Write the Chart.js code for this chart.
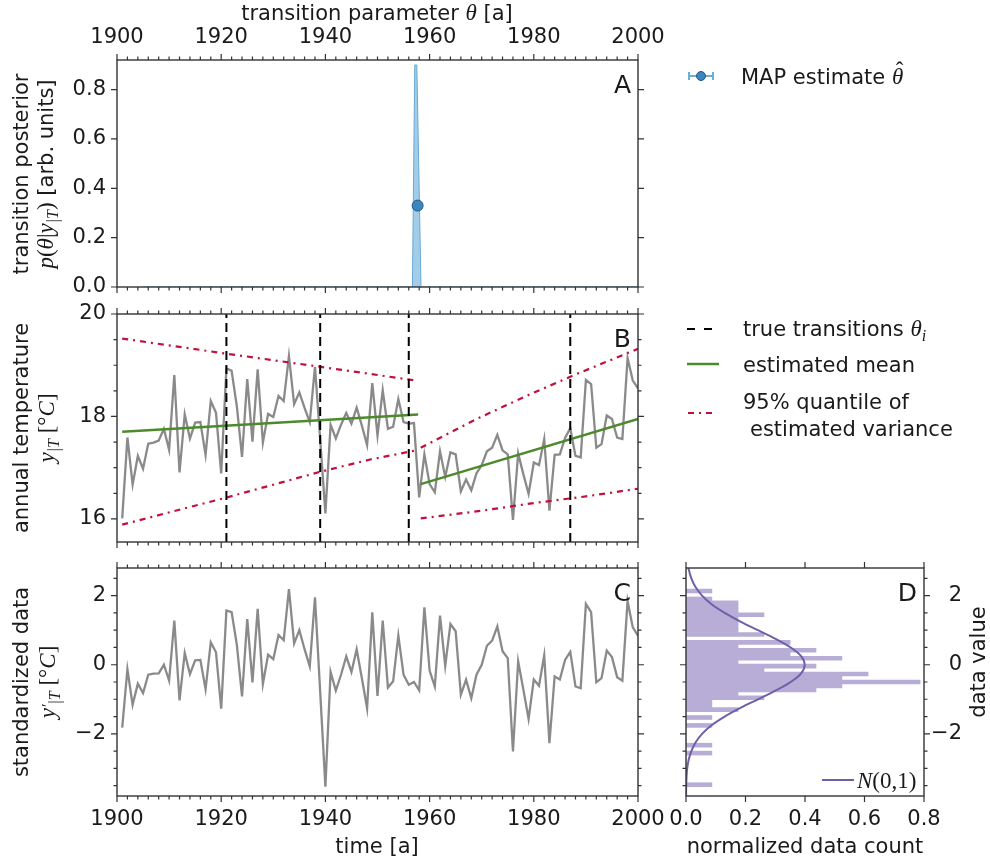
<!DOCTYPE html>
<html>
<head>
<meta charset="utf-8">
<script src="https://cdn.jsdelivr.net/npm/chart.js@4.4.1/dist/chart.umd.min.js"></script>
<style>
  html, body { margin: 0; padding: 0; background: #fff; }
  #wrap { position: relative; width: 990px; height: 864px; }
  #wrap canvas { position: absolute; left: 0; top: 0; }
</style>
</head>
<body>
<div id="wrap">
  <canvas id="chartA" width="990" height="864"></canvas>
  <canvas id="chartB" width="990" height="864"></canvas>
  <canvas id="chartC" width="990" height="864"></canvas>
  <canvas id="chartD" width="990" height="864"></canvas>
</div>
<script>
// ---- data ----
const years = Array.from({ length: 100 }, (_, i) => 1901 + i);

const rawTemp = [
  16.01, 17.59, 16.67, 17.23, 16.98, 17.47, 17.49, 17.53, 17.76, 17.35,
  18.81, 16.91, 18.04, 17.57, 17.88, 17.89, 17.25, 18.30, 18.07, 16.89,
  18.94, 18.89, 18.20, 17.21, 18.73, 17.51, 18.92, 17.49, 18.05, 17.99,
  18.40, 18.30, 19.18, 18.24, 18.47, 18.17, 17.89, 18.97, 17.55, 16.11,
  17.84, 17.57, 17.84, 18.07, 17.86, 18.17, 17.82, 17.44, 18.65, 17.63,
  18.51, 17.76, 17.80, 18.34, 17.89, 17.86, 17.87, 16.42, 17.26, 16.68,
  16.52, 17.32, 16.82, 17.30, 17.26, 16.54, 16.77, 16.56, 16.89, 17.05,
  17.32, 17.39, 17.64, 17.34, 17.26, 15.98, 17.28, 16.87, 16.49, 17.10,
  17.05, 17.56, 16.16, 17.25, 17.26, 17.58, 17.77, 17.23, 17.20, 18.71,
  18.63, 17.39, 17.46, 18.02, 17.95, 17.59, 17.56, 19.14, 18.70, 18.55
];

const standardized = [
  -1.82, -0.13, -1.16, -0.55, -0.82, -0.29, -0.26, -0.25, 0.00, -0.46,
  1.28, -1.03, 0.34, -0.27, 0.13, 0.14, -0.71, 0.65, 0.36, -1.27,
  1.57, 1.52, 0.58, -0.92, 1.32, -0.51, 1.62, -0.56, 0.29, 0.16,
  0.86, 0.71, 2.19, 0.62, 1.00, 0.45, -0.05, 1.95, -0.79, -3.53,
  -0.21, -0.75, -0.29, 0.24, -0.21, 0.45, -0.39, -1.26, 1.52, -0.90,
  1.28, -0.66, -0.48, 0.84, -0.29, -0.58, -0.50, -0.74, 1.66, -0.17,
  -0.63, 1.42, -0.03, 1.18, 0.97, -0.87, -0.43, -0.97, -0.29, 0.00,
  0.55, 0.70, 1.11, 0.39, 0.19, -2.51, 0.10, -0.72, -1.57, -0.43,
  -0.61, 0.27, -2.27, -0.34, -0.43, 0.14, 0.37, -0.63, -0.68, 1.76,
  1.52, -0.51, -0.39, 0.41, 0.22, -0.36, -0.46, 1.84, 1.08, 0.84
];

const transitions = [1921, 1939, 1956, 1987];

const meanYears1 = [1901, 1957.8];
const meanValues1 = [17.70, 18.04];
const meanYears2 = [1958.3, 2000];
const meanValues2 = [16.68, 17.95];

const upperYears1 = [1901, 1920, 1939, 1957.5];
const upperValues1 = [19.52, 19.24, 18.97, 18.70];
const lowerYears1 = [1901, 1920, 1939, 1948.6, 1957.5];
const lowerValues1 = [15.89, 16.39, 16.92, 17.16, 17.34];
const upperYears2 = [1958.3, 1969, 1979, 1988, 2000];
const upperValues2 = [17.39, 17.95, 18.42, 18.82, 19.32];
const lowerYears2 = [1958.3, 1970, 1980, 1990, 2000];
const lowerValues2 = [16.01, 16.16, 16.31, 16.44, 16.59];

const posteriorYears = [1905, 1956.7, 1957.15, 1957.55, 1958.35, 2000];
const posteriorValues = [0, 0, 0.9, 0.9, 0, 0];
const mapYear = 1957.7;
const mapValue = 0.33;

const histCenters = [
  2.133, 2.018, 1.904, 1.790, 1.675, 1.561, 1.446, 1.332, 1.218, 1.103,
  0.989, 0.874, 0.760, 0.646, 0.531, 0.417, 0.302, 0.188, 0.074, -0.041,
  -0.155, -0.270, -0.384, -0.498, -0.613, -0.727, -0.842, -0.956, -1.070, -1.185,
  -1.299, -1.414, -1.528, -1.642, -1.757, -1.871, -1.986, -2.100, -2.214, -2.329,
  -2.443, -2.558, -2.672, -2.786, -2.901, -3.015, -3.130, -3.244, -3.358, -3.473
];
const histDensity = [
  0.087, 0, 0.087, 0.175, 0.175, 0.175, 0.262, 0.175, 0.175, 0.175,
  0.175, 0.262, 0, 0.350, 0.175, 0.437, 0.350, 0.524, 0.175, 0.437,
  0.262, 0.612, 0.524, 0.787, 0.524, 0.437, 0.175, 0.262, 0.087, 0.087,
  0.175, 0, 0.087, 0, 0.087, 0, 0, 0, 0, 0.087,
  0, 0.087, 0, 0, 0, 0, 0, 0, 0, 0.087
];

const normalY = [2.8, 2.5, 2.25, 2.0, 1.75, 1.5, 1.25, 1.0, 0.75, 0.5, 0.25, 0,
  -0.25, -0.5, -0.75, -1.0, -1.25, -1.5, -1.75, -2.0, -2.25, -2.5, -2.75, -3.0, -3.4, -3.8];
const normalPdf = [0.008, 0.018, 0.032, 0.054, 0.086, 0.130, 0.183, 0.242, 0.301, 0.352, 0.387, 0.399,
  0.387, 0.352, 0.301, 0.242, 0.183, 0.130, 0.086, 0.054, 0.032, 0.018, 0.009, 0.004, 0.001, 0.0003];

// tick labels and ranges
const yearTicks = [1900, 1920, 1940, 1960, 1980, 2000];
const posteriorTicks = [0, 0.2, 0.4, 0.6, 0.8];
const tempTicks = [16, 18, 20];
const stdTicks = [-2, 0, 2];
const densityTicks = [0, 0.2, 0.4, 0.6, 0.8];

const yearRange = [1900, 2000];
const posteriorRange = [0, 0.92];
const tempRange = [15.55, 20];
const stdRange = [-3.8, 2.8];
const densityRange = [0, 0.8];

// ---- helpers ----
const TEXT = '#1a1a1a';
const AXIS = '#333';
const SANS = '21px "DejaVu Sans"';
const MI = 'italic 23px "Liberation Serif"';
const MR = '23px "Liberation Serif"';
const SUB = 'italic 16px "Liberation Serif"';

const xy = (xs, ys) => xs.map((x, i) => ({ x, y: ys[i] }));
const steps = (a, b, s) => { const out = []; for (let v = a; v <= b + 1e-9; v += s) out.push(+v.toFixed(4)); return out; };
const minus = (v) => String(v).replace('-', '\u2212');

// parts: [text, font, dy, over] -- "over" centres the part above the previous one
function rich(ctx, parts, x, y, opt = {}) {
  ctx.save();
  ctx.translate(x, y);
  if (opt.rotate) ctx.rotate(opt.rotate);
  ctx.textBaseline = 'alphabetic';
  ctx.textAlign = 'left';
  ctx.fillStyle = TEXT;
  let w = 0;
  for (const p of parts) { if (p[3]) continue; ctx.font = p[1]; w += ctx.measureText(p[0]).width; }
  let cx = opt.align === 'center' ? -w / 2 : opt.align === 'right' ? -w : 0;
  let prevX = cx, prevW = 0;
  for (const p of parts) {
    ctx.font = p[1];
    const pw = ctx.measureText(p[0]).width;
    if (p[3]) {
      ctx.fillText(p[0], prevX + (prevW - pw) / 2 + 2, 7.5 + (p[2] || 0));
      continue;
    }
    ctx.fillText(p[0], cx, 7.5 + (p[2] || 0));
    prevX = cx; prevW = pw;
    cx += pw;
  }
  ctx.restore();
}

function letter(chart, txt) {
  const { ctx, chartArea: a } = chart;
  ctx.save();
  ctx.font = '25px "DejaVu Sans"';
  ctx.fillStyle = TEXT;
  ctx.textAlign = 'right';
  ctx.fillText(txt, a.right - 7, a.top + 33);
  ctx.restore();
}

function makeFrame(spec) {
  return {
    id: 'frame',
    afterDatasetsDraw(chart) {
      const { ctx, chartArea: a } = chart;
      const xs = chart.scales.x, ys = chart.scales.y;
      ctx.save();
      ctx.strokeStyle = AXIS;
      ctx.lineWidth = 1.2;
      ctx.beginPath();
      const tx = (v, len) => {
        const p = xs.getPixelForValue(v);
        ctx.moveTo(p, a.top); ctx.lineTo(p, a.top - len);
        ctx.moveTo(p, a.bottom); ctx.lineTo(p, a.bottom + len);
      };
      const ty = (v, len) => {
        const p = ys.getPixelForValue(v);
        ctx.moveTo(a.left, p); ctx.lineTo(a.left - len, p);
        ctx.moveTo(a.right, p); ctx.lineTo(a.right + len, p);
      };
      spec.xMajor.forEach(v => tx(v, 6));
      (spec.xMinor || []).forEach(v => tx(v, 3.5));
      spec.yMajor.forEach(v => ty(v, 6));
      (spec.yMinor || []).forEach(v => ty(v, 3.5));
      ctx.stroke();
      ctx.lineWidth = 1.4;
      ctx.strokeRect(a.left, a.top, a.right - a.left, a.bottom - a.top);
      ctx.restore();
    }
  };
}

function axis(position, range, ticks, fmt, size, labels) {
  return {
    type: 'linear',
    position,
    min: range[0],
    max: range[1],
    offset: false,
    grid: { display: false, drawTicks: false },
    border: { display: false },
    afterBuildTicks: (s) => { s.ticks = ticks.map(v => ({ value: v })); },
    afterFit: (s) => { if (s.isHorizontal()) s.height = size; else s.width = size; },
    ticks: {
      display: labels,
      padding: position === 'top' ? 10 : 11,
      color: TEXT,
      font: { size: 21, family: 'DejaVu Sans' },
      autoSkip: false,
      maxRotation: 0,
      crossAlign: position === 'right' ? 'far' : 'near',
      callback: (v) => fmt(v)
    }
  };
}

function baseOptions(padding, scales) {
  return {
    responsive: false,
    animation: false,
    events: [],
    layout: { padding },
    plugins: { legend: { display: false }, tooltip: { enabled: false } },
    scales
  };
}

const yearMinor = steps(1900, 2000, 2);
const halfMinor = (a, b) => steps(a, b, 0.5);

// ---- A: transition posterior ----
new Chart(document.getElementById('chartA'), {
  type: 'scatter',
  data: {
    datasets: [
      {
        data: [{ x: mapYear, y: mapValue }],
        pointRadius: 5.5,
        backgroundColor: '#3a86bf',
        borderColor: '#25577f',
        borderWidth: 1,
        order: 0
      },
      {
        data: xy(posteriorYears, posteriorValues),
        showLine: true,
        fill: 'origin',
        backgroundColor: 'rgba(130,188,225,0.75)',
        borderColor: '#6aa9d6',
        borderWidth: 1,
        pointRadius: 0,
        order: 1
      }
    ]
  },
  options: baseOptions({ left: 0, top: 0, right: 352, bottom: 577 }, {
    x: axis('top', yearRange, yearTicks, v => String(v), 60, true),
    y: axis('left', posteriorRange, posteriorTicks, v => v.toFixed(1), 117, true)
  }),
  plugins: [
    makeFrame({ xMajor: yearTicks, xMinor: yearMinor, yMajor: posteriorTicks }),
    {
      id: 'decoA',
      afterDraw(chart) {
        const ctx = chart.ctx;
        letter(chart, 'A');
        rich(ctx, [['transition parameter ', SANS], ['\u03b8', MI], [' [a]', SANS]], 377, 12, { align: 'center' });
        rich(ctx, [['transition posterior', SANS]], 20, 174, { align: 'center', rotate: -Math.PI / 2 });
        rich(ctx, [['p', MI], ['(', MR], ['\u03b8', MI], ['|', MR], ['y', MI], ['|T', SUB, 5], [')', MR], [' [arb. units]', SANS]],
          45, 174, { align: 'center', rotate: -Math.PI / 2 });

        // legend A
        ctx.save();
        ctx.strokeStyle = '#6baed6';
        ctx.lineWidth = 2;
        ctx.beginPath();
        ctx.moveTo(689, 76); ctx.lineTo(713, 76);
        ctx.moveTo(689, 72); ctx.lineTo(689, 80);
        ctx.moveTo(713, 72); ctx.lineTo(713, 80);
        ctx.stroke();
        ctx.beginPath();
        ctx.arc(701, 76, 4.5, 0, Math.PI * 2);
        ctx.fillStyle = '#3a86bf';
        ctx.fill();
        ctx.strokeStyle = '#25577f';
        ctx.lineWidth = 1;
        ctx.stroke();
        ctx.restore();
        rich(ctx, [['MAP estimate ', SANS], ['\u03b8', MI], ['\u02c6', MR, -6, true]], 741, 76);

        // legend B
        ctx.save();
        ctx.lineWidth = 2;
        ctx.strokeStyle = '#000';
        ctx.setLineDash([8, 9]);
        ctx.beginPath(); ctx.moveTo(687, 329); ctx.lineTo(713, 329); ctx.stroke();
        ctx.setLineDash([]);
        ctx.strokeStyle = '#4c8a2b';
        ctx.lineWidth = 2.5;
        ctx.beginPath(); ctx.moveTo(687, 364); ctx.lineTo(719, 364); ctx.stroke();
        ctx.strokeStyle = '#c0103c';
        ctx.lineWidth = 2.2;
        ctx.setLineDash([6, 5, 2, 5]);
        ctx.beginPath(); ctx.moveTo(688, 413); ctx.lineTo(714, 413); ctx.stroke();
        ctx.restore();
        rich(ctx, [['true transitions ', SANS], ['\u03b8', MI], ['i', SUB, 5]], 743, 328);
        rich(ctx, [['estimated mean', SANS]], 743, 364);
        rich(ctx, [['95% quantile of', SANS]], 743, 401);
        rich(ctx, [['estimated variance', SANS]], 750, 428);
      }
    }
  ]
});

// ---- B: annual temperature ----
const dashOpts = { borderColor: '#c0103c', borderWidth: 2.2, borderDash: [6, 5, 2, 5], pointRadius: 0, showLine: true, order: 2 };
const transitionSets = transitions.map(t => ({
  data: xy([t, t], tempRange),
  borderColor: '#000',
  borderWidth: 2,
  borderDash: [9, 5],
  pointRadius: 0,
  showLine: true,
  order: 0
}));

new Chart(document.getElementById('chartB'), {
  type: 'scatter',
  data: {
    datasets: [
      ...transitionSets,
      { data: xy(meanYears1, meanValues1), borderColor: '#4c8a2b', borderWidth: 2.5, pointRadius: 0, showLine: true, order: 1 },
      { data: xy(meanYears2, meanValues2), borderColor: '#4c8a2b', borderWidth: 2.5, pointRadius: 0, showLine: true, order: 1 },
      { data: xy(upperYears1, upperValues1), ...dashOpts },
      { data: xy(lowerYears1, lowerValues1), ...dashOpts },
      { data: xy(upperYears2, upperValues2), ...dashOpts },
      { data: xy(lowerYears2, lowerValues2), ...dashOpts },
      { data: xy(years, rawTemp), borderColor: '#8a8a8a', borderWidth: 2.3, pointRadius: 0, showLine: true, order: 3 }
    ]
  },
  options: baseOptions({ left: 0, top: 314, right: 352, bottom: 322 }, {
    x: axis('bottom', yearRange, yearTicks, v => String(v), 0, false),
    y: axis('left', tempRange, tempTicks, v => String(v), 117, true)
  }),
  plugins: [
    makeFrame({ xMajor: yearTicks, xMinor: yearMinor, yMajor: tempTicks, yMinor: halfMinor(16, 20) }),
    {
      id: 'decoB',
      afterDraw(chart) {
        const ctx = chart.ctx;
        letter(chart, 'B');
        rich(ctx, [['annual temperature', SANS]], 20, 428, { align: 'center', rotate: -Math.PI / 2 });
        rich(ctx, [['y', MI], ['|T', SUB, 5], [' [\u00b0', MR], ['C', MI], [']', MR]], 46, 428, { align: 'center', rotate: -Math.PI / 2 });
      }
    }
  ]
});

// ---- C: standardized data ----
new Chart(document.getElementById('chartC'), {
  type: 'scatter',
  data: {
    datasets: [
      { data: xy(years, standardized), borderColor: '#8a8a8a', borderWidth: 2.3, pointRadius: 0, showLine: true }
    ]
  },
  options: baseOptions({ left: 0, top: 568, right: 352, bottom: 0 }, {
    x: axis('bottom', yearRange, yearTicks, v => String(v), 68, true),
    y: axis('left', stdRange, stdTicks, v => minus(v), 117, true)
  }),
  plugins: [
    makeFrame({ xMajor: yearTicks, xMinor: yearMinor, yMajor: stdTicks, yMinor: halfMinor(-3.5, 2.5) }),
    {
      id: 'decoC',
      afterDraw(chart) {
        const ctx = chart.ctx;
        letter(chart, 'C');
        rich(ctx, [['standardized data', SANS]], 20, 682, { align: 'center', rotate: -Math.PI / 2 });
        rich(ctx, [['y', MI], ['\u2032', SUB, -2], ['|T', SUB, 5], [' [\u00b0', MR], ['C', MI], [']', MR]], 47, 682, { align: 'center', rotate: -Math.PI / 2 });
        rich(ctx, [['time [a]', SANS]], 377, 845, { align: 'center' });
      }
    }
  ]
});

// ---- D: histogram ----
new Chart(document.getElementById('chartD'), {
  type: 'bar',
  data: {
    datasets: [
      {
        type: 'line',
        data: xy(normalPdf, normalY),
        borderColor: '#6f5fa8',
        borderWidth: 2,
        pointRadius: 0,
        cubicInterpolationMode: 'monotone',
        fill: false,
        order: 0
      },
      {
        data: histCenters.map((c, i) => ({ x: histDensity[i], y: c })),
        backgroundColor: '#b8add6',
        borderWidth: 0,
        barPercentage: 1,
        categoryPercentage: 1,
        order: 1
      }
    ]
  },
  options: Object.assign(baseOptions({ left: 686, top: 568, right: 28, bottom: 0 }, {
    x: axis('bottom', densityRange, densityTicks, v => v.toFixed(1), 68, true),
    y: axis('right', stdRange, stdTicks, v => minus(v), 38, true)
  }), { indexAxis: 'y' }),
  plugins: [
    makeFrame({ xMajor: densityTicks, yMajor: stdTicks, yMinor: halfMinor(-3.5, 2.5) }),
    {
      id: 'decoD',
      afterDraw(chart) {
        const ctx = chart.ctx;
        letter(chart, 'D');
        rich(ctx, [['normalized data count', SANS]], 805, 845, { align: 'center' });
        rich(ctx, [['data value', SANS]], 977, 662, { align: 'center', rotate: -Math.PI / 2 });
        ctx.save();
        ctx.strokeStyle = '#6f5fa8';
        ctx.lineWidth = 2;
        ctx.beginPath(); ctx.moveTo(822, 780); ctx.lineTo(854, 780); ctx.stroke();
        ctx.restore();
        rich(ctx, [['N', MI], ['(0,1)', MR]], 857, 780);
      }
    }
  ]
});
</script>
</body>
</html>
